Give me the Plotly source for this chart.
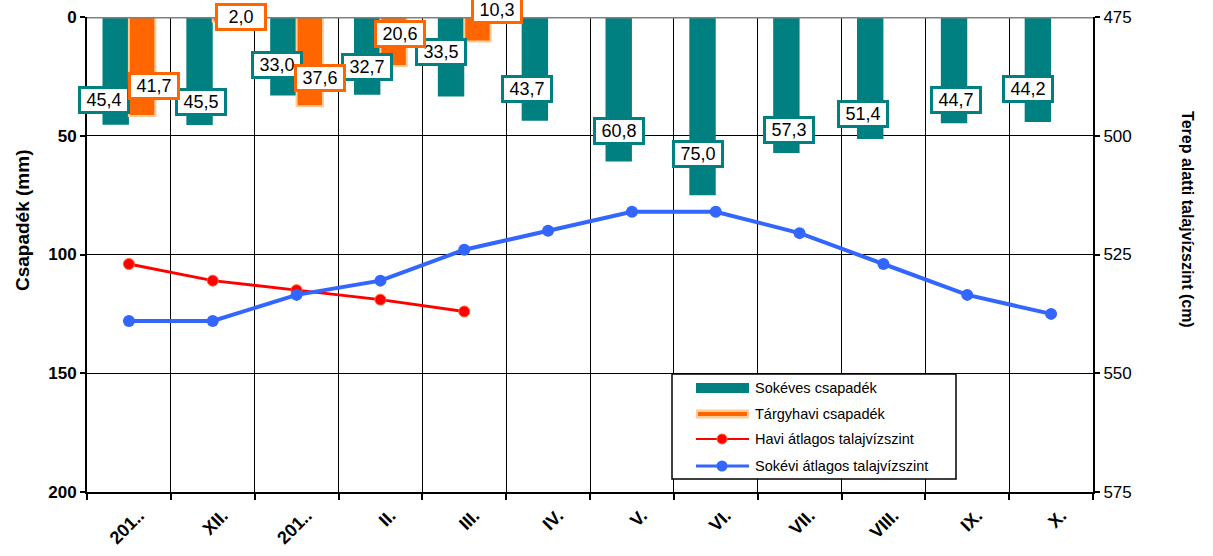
import plotly.graph_objects as go

# Monthly categories (x axis)
months = ["201..", "XII.", "201..", "II.", "III.", "IV.", "V.", "VI.", "VII.", "VIII.", "IX.", "X."]

# Precipitation (mm)
longterm_precip = [45.4, 45.5, 33.0, 32.7, 33.5, 43.7, 60.8, 75.0, 57.3, 51.4, 44.7, 44.2]
current_precip = [41.7, 2.0, 37.6, 20.6, 10.3]

# Groundwater level below surface (cm)
monthly_gw = [527, 530.5, 532.5, 534.5, 537]
longterm_gw = [539, 539, 533.5, 530.5, 524, 520, 516, 516, 520.5, 527, 533.5, 537.5]

# Tick values
precip_ticks = [0, 50, 100, 150, 200]
gw_ticks = [475, 500, 525, 550, 575]

# Data label offsets (pixels) relative to the category centre / bar end
teal_dx = [-25, -12, -20, -13, -23, -21, -13, -18, -11, -20, -11, -23]
teal_up = [25, 23, 30, 28, 45, 32, 30, 41, 23, 25, 23, 33]
orange_dx = [25, 28, 23, 20, 33]
orange_up = [30, 5, 28, 32, 31]

TEAL = "#008080"
ORANGE = "#FF6600"
ORANGE_EDGE = "#FFCC99"
RED = "#FF0000"
BLUE = "#3366FF"
FONT = "Arial, Liberation Sans, sans-serif"

idx = list(range(len(months)))
current_full = current_precip + [None] * (len(months) - len(current_precip))

fig = go.Figure()
fig.add_trace(go.Bar(x=idx, y=longterm_precip, name="Sokéves csapadék",
                     marker=dict(color=TEAL, line=dict(width=0))))
fig.add_trace(go.Bar(x=idx, y=current_full, name="Tárgyhavi csapadék",
                     marker=dict(color=ORANGE, line=dict(color=ORANGE_EDGE, width=2))))
fig.add_trace(go.Scatter(x=idx[:len(monthly_gw)], y=monthly_gw, yaxis="y2",
                         name="Havi átlagos talajvízszint", mode="lines+markers",
                         line=dict(color=RED, width=3),
                         marker=dict(size=11, color=RED, line=dict(color="#FF6633", width=1))))
fig.add_trace(go.Scatter(x=idx, y=longterm_gw, yaxis="y2",
                         name="Sokévi átlagos talajvízszint", mode="lines+markers",
                         line=dict(color=BLUE, width=4),
                         marker=dict(size=12, color=BLUE)))

annotations = []
for i, v in enumerate(longterm_precip):
    annotations.append(dict(x=i, y=v, xref="x", yref="y", text=f"{v:.1f}".replace(".", ","),
                            showarrow=False, xshift=teal_dx[i], yshift=teal_up[i],
                            font=dict(family=FONT, size=18, color="black"),
                            bgcolor="white", bordercolor=TEAL, borderwidth=3, borderpad=1,
                            width=44, height=20))
for i, v in enumerate(current_precip):
    annotations.append(dict(x=i, y=v, xref="x", yref="y", text=f"{v:.1f}".replace(".", ","),
                            showarrow=False, xshift=orange_dx[i], yshift=orange_up[i],
                            font=dict(family=FONT, size=18, color="black"),
                            bgcolor="white", bordercolor=ORANGE, borderwidth=3, borderpad=1,
                            width=44, height=20))

# Axis titles
annotations.append(dict(x=-0.0646, y=0.5726, xref="paper", yref="paper",
                        text="<b>Csapadék (mm)</b>",
                        textangle=-90, showarrow=False, xanchor="center", yanchor="middle",
                        font=dict(family=FONT, size=19, color="black")))
annotations.append(dict(x=1.0944, y=0.5726, xref="paper", yref="paper",
                        text="<b>Terep alatti talajvízszint (cm)</b>",
                        textangle=90, showarrow=False, xanchor="center", yanchor="middle",
                        font=dict(family=FONT, size=16, color="black")))

# Legend (drawn box)
L, T, PW, PH = 87, 17, 1006, 475


def px(x):
    return (x - L) / PW


def py(y):
    return (T + PH - y) / PH


legend_items = ["Sokéves csapadék", "Tárgyhavi csapadék",
                "Havi átlagos talajvízszint", "Sokévi átlagos talajvízszint"]
legend_rows = [388, 414, 439, 466]
for name, yy in zip(legend_items, legend_rows):
    annotations.append(dict(x=px(753), y=py(yy), xref="paper", yref="paper", text=name,
                            showarrow=False, xanchor="left", yanchor="middle",
                            font=dict(family=FONT, size=14.5, color="black")))

shapes = [
    # baseline at 0 mm
    dict(type="line", xref="paper", x0=0, x1=1, yref="y", y0=0, y1=0,
         line=dict(color="#808080", width=3), layer="above"),
    # legend box
    dict(type="rect", xref="paper", yref="paper", x0=px(672), x1=px(956), y0=py(479), y1=py(374),
         fillcolor="white", line=dict(color="black", width=1.5), layer="above"),
    dict(type="rect", xref="paper", yref="paper", x0=px(696), x1=px(749), y0=py(393), y1=py(383),
         fillcolor=TEAL, line=dict(width=0), layer="above"),
    dict(type="rect", xref="paper", yref="paper", x0=px(696), x1=px(749), y0=py(418.5), y1=py(409.5),
         fillcolor=ORANGE_EDGE, line=dict(width=0), layer="above"),
    dict(type="rect", xref="paper", yref="paper", x0=px(698), x1=px(747), y0=py(416), y1=py(412),
         fillcolor=ORANGE, line=dict(width=0), layer="above"),
    dict(type="line", xref="paper", yref="paper", x0=px(696), x1=px(749), y0=py(439), y1=py(439),
         line=dict(color=RED, width=2), layer="above"),
    dict(type="circle", xref="paper", yref="paper", xsizemode="pixel", ysizemode="pixel",
         xanchor=px(722), yanchor=py(439), x0=-5, x1=5, y0=-5, y1=5,
         fillcolor=RED, line=dict(color="#FF6633", width=1), layer="above"),
    dict(type="line", xref="paper", yref="paper", x0=px(696), x1=px(749), y0=py(466), y1=py(466),
         line=dict(color=BLUE, width=3), layer="above"),
    dict(type="circle", xref="paper", yref="paper", xsizemode="pixel", ysizemode="pixel",
         xanchor=px(722), yanchor=py(466), x0=-5.5, x1=5.5, y0=-5.5, y1=5.5,
         fillcolor=BLUE, line=dict(width=0), layer="above"),
]

fig.update_layout(
    width=1213, height=556,
    margin=dict(l=87, r=120, t=17, b=64),
    paper_bgcolor="white", plot_bgcolor="white",
    showlegend=False,
    barmode="group", bargap=0.37, bargroupgap=0,
    font=dict(family=FONT, color="black"),
    xaxis=dict(range=[-0.5, 11.5], tickvals=idx, ticktext=[f"<b>{m}</b>" for m in months],
               tickangle=-45, tickfont=dict(size=18, color="black"), ticks="",
               ticklabelstandoff=4, ticklabelshift=10, automargin=False,
               showgrid=False, zeroline=False, showline=True, linecolor="black", linewidth=2,
               minor=dict(tick0=0.5, dtick=1, showgrid=True, gridcolor="black", gridwidth=1,
                          ticks="outside", ticklen=6, tickwidth=2, tickcolor="black"),
               fixedrange=True),
    yaxis=dict(range=[200, 0], tickvals=precip_ticks, automargin=False,
               ticktext=[f"<b>{t}</b>" for t in precip_ticks],
               tickfont=dict(size=17, color="black"), showgrid=True, gridcolor="black", gridwidth=1,
               zeroline=False, showline=True, linecolor="black", linewidth=2,
               ticks="outside", ticklen=5, tickwidth=2, tickcolor="black"),
    yaxis2=dict(range=[575, 475], tickvals=gw_ticks, overlaying="y", side="right",
                automargin=False,
                tickfont=dict(size=17, color="black"), showgrid=False, zeroline=False,
                showline=True, linecolor="black", linewidth=2,
                ticks="outside", ticklen=5, tickwidth=2, tickcolor="black"),
    annotations=annotations,
    shapes=shapes,
)

fig.write_html("out.html", config={"displayModeBar": False})
